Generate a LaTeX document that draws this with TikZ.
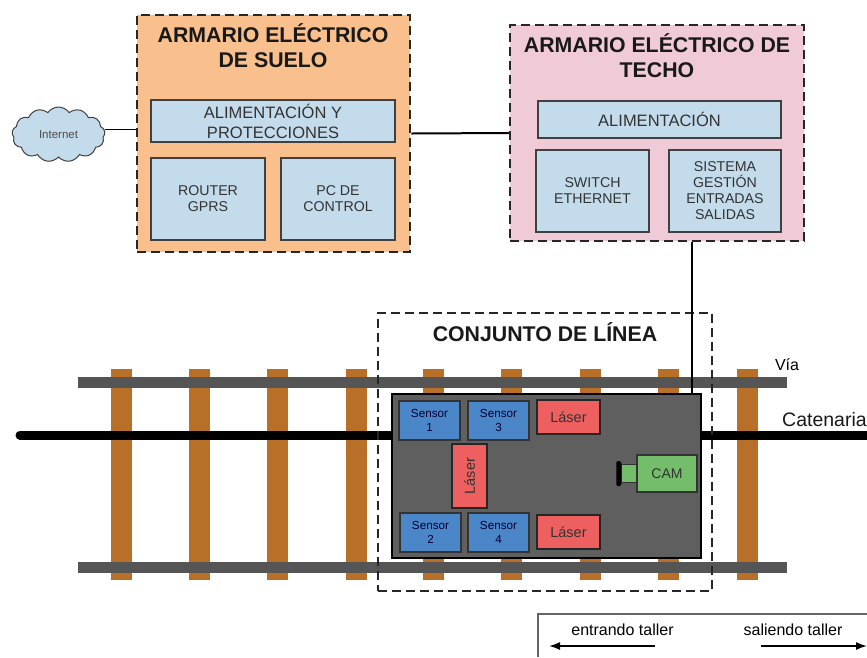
\documentclass[tikz,border=0pt]{standalone}
\usepackage{fontspec}
\setmainfont{Liberation Sans}
\usetikzlibrary{positioning, shapes.symbols, arrows.meta}
\definecolor{suelocolor}{HTML}{F9C08D}
\definecolor{techocolor}{HTML}{F0CBD7}
\definecolor{panelcolor}{HTML}{C3DBEB}
\definecolor{sensorcolor}{HTML}{4A86C8}
\definecolor{lasercolor}{HTML}{EE6060}
\definecolor{camcolor}{HTML}{73BD6B}
\definecolor{carrocolor}{HTML}{5F5F5F}
\definecolor{sleepercolor}{HTML}{B87029}
\definecolor{railcolor}{HTML}{555555}
\newcommand{\fsize}[1]{\fontsize{#1}{#1}\selectfont}
\tikzset{
	cabinet/.style={draw=black!85, line width=2.5pt, dash pattern=on 9pt off 5pt, minimum width=#1, inner sep=0pt},
	cabinettext/.style={font=\fontsize{21.3}{25}\selectfont\bfseries, align=center, text=black!90},
	panel/.style={draw=black!75, line width=1.5pt, fill=panelcolor, align=center, inner sep=0pt, text=black!80, font=\fontsize{14.2}{16}\selectfont},
	sensorbox/.style={draw=black!80, line width=1.5pt, fill=sensorcolor, align=center, inner sep=0pt, minimum width=61pt, minimum height=39pt, text=blue!20!black, font=\fontsize{11.7}{14}\selectfont},
	laserbox/.style={draw=black!85, line width=1.5pt, fill=lasercolor, inner sep=0pt, text=black!80, font=\fsize{14.5}},
	sleeper/.style={sleepercolor, line width=21pt},
	rail/.style={railcolor, line width=11pt},
	smalltext/.style={font=\fsize{16}, text=black}
}
\begin{document}
\begin{tikzpicture}[x=1pt, y=-1pt]
	\clip (0,0) rectangle (867,657);
	\fill[white] (0,0) rectangle (867,657);
	% via
	\foreach \x in {121,199,277,356,433,511,590,668,747}
		\draw[sleeper] (\x,369) -- (\x,580);
	\draw[rail] (78,382) -- (787,382);
	\draw[rail] (78,567) -- (787,567);
	\coordinate (catl) at (20,435);
	\coordinate (catr) at (867,435);
	\draw[line width=9pt, line cap=round] (catl) -- (catr);
	\node[smalltext] (via) at (787,365) {Vía};
	\node[anchor=west, font=\fsize{19.5}, text=black!90, inner sep=0pt] (catenaria) at (782,420) {Catenaria};

	% armarios
	\node[cabinet=273pt, fill=suelocolor, minimum height=237pt] (suelo) at (273.5,133.5) {};
	\node[cabinettext] (suelotitle) at (273,46) {ARMARIO ELÉCTRICO\\DE SUELO};
	\node[panel, minimum width=244pt, minimum height=42pt, font=\fsize{16.5}] (alim1) at (273,121) {\raisebox{1.5pt}{\parbox[c]{200pt}{\centering\baselineskip=20pt ALIMENTACIÓN Y\\PROTECCIONES}}};
	\node[panel, minimum width=114pt, minimum height=82pt] (router) at (208,199) {ROUTER\\GPRS};
	\node[panel, minimum width=114pt, minimum height=82pt] (pc) at (338,199) {PC DE\\CONTROL};

	\node[cabinet=294pt, fill=techocolor, minimum height=216pt] (techo) at (657,133) {};
	\node[cabinettext] (techotitle) at (657,56) {ARMARIO ELÉCTRICO DE\\TECHO};
	\node[panel, minimum width=243pt, minimum height=37pt, font=\fsize{16.5}] (alim2) at (659.5,119.5) {ALIMENTACIÓN};
	\node[panel, minimum width=113pt, minimum height=82pt] (switch) at (592.5,191) {SWITCH\\ETHERNET};
	\node[panel, minimum width=112pt, minimum height=82pt] (sistema) at (725,191) {SISTEMA\\GESTIÓN\\ENTRADAS\\SALIDAS};

	\node[cloud, cloud puffs=13, cloud puff arc=110, aspect=1.7, draw=black!75, line width=1pt, fill=panelcolor, minimum width=93pt, minimum height=55pt, inner sep=0pt, font=\fsize{11.5}, text=black!70] (internet) at (58.5,134.5) {Internet};
	\draw[line width=1.5pt] (internet.east |- suelo.west) ++(0,-4) coordinate (inet) -- (inet -| suelo.west);
	\draw[line width=2pt] (suelo.east) -- (techo.west);

	% conjunto de linea
	\node[cabinet=334pt, line width=2pt, minimum height=278pt] (conjunto) at (545,452) {};
	\node[font=\fontsize{21.3}{25}\selectfont\bfseries, text=black!90] (conjuntotitle) at (545,332) {CONJUNTO DE LÍNEA};
	\node[draw=black, line width=1.5pt, fill=carrocolor, minimum width=309pt, minimum height=164pt, inner sep=0pt] (carro) at (546.5,476) {};
	\coordinate (bajada) at (692,241);
	\draw[line width=2pt] (bajada |- techo.south) -- (bajada |- carro.north);

	\foreach \name/\x/\y/\l in {s1/429.5/420.5/1, s3/498.5/420.5/3, s2/430.5/532.5/2, s4/498.5/532.5/4}
		\node[sensorbox] (\name) at (\x,\y) {Sensor\\\l};
	\node[laserbox, minimum width=63pt, minimum height=34pt] (laser1) at (568.5,417) {Láser};
	\node[laserbox, minimum width=63pt, minimum height=34pt] (laser2) at (568.5,532) {Láser};
	\node[laserbox, minimum width=35pt, minimum height=64pt] (laser3) at (469.5,476) {\rotatebox{90}{Láser}};

	\node[draw=black!80, line width=1.5pt, fill=camcolor, minimum width=60pt, minimum height=37pt, inner sep=0pt, font=\fsize{14}, text=black!80] (cam) at (667,473.5) {CAM};
	\node[draw=black!80, line width=1.5pt, fill=camcolor, minimum width=15pt, minimum height=18pt, inner sep=0pt, outer sep=0pt, left=0pt of cam] (lens) {};
	\node[fill=black, rounded corners=1.5pt, minimum width=5pt, minimum height=25pt, inner sep=0pt, outer sep=0pt, left=0pt of lens] (lenscap) {};

	% leyenda
	\draw[draw=black!60, line width=1.5pt] (867,614) -- (538,614) -- (538,657);
	\node[smalltext] (entrando) at (622.5,630) {entrando taller};
	\node[smalltext] (saliendo) at (793,630) {saliendo taller};
	\coordinate (e0) at (655,646);
	\coordinate (e1) at (549,646);
	\coordinate (s0) at (761,646);
	\coordinate (s1) at (867,646);
	\draw[-{Latex[length=11pt,width=8pt]}, line width=1.5pt] (e0) -- (e1);
	\draw[-{Latex[length=11pt,width=8pt]}, line width=1.5pt] (s0) -- (s1);
\end{tikzpicture}
\end{document}
